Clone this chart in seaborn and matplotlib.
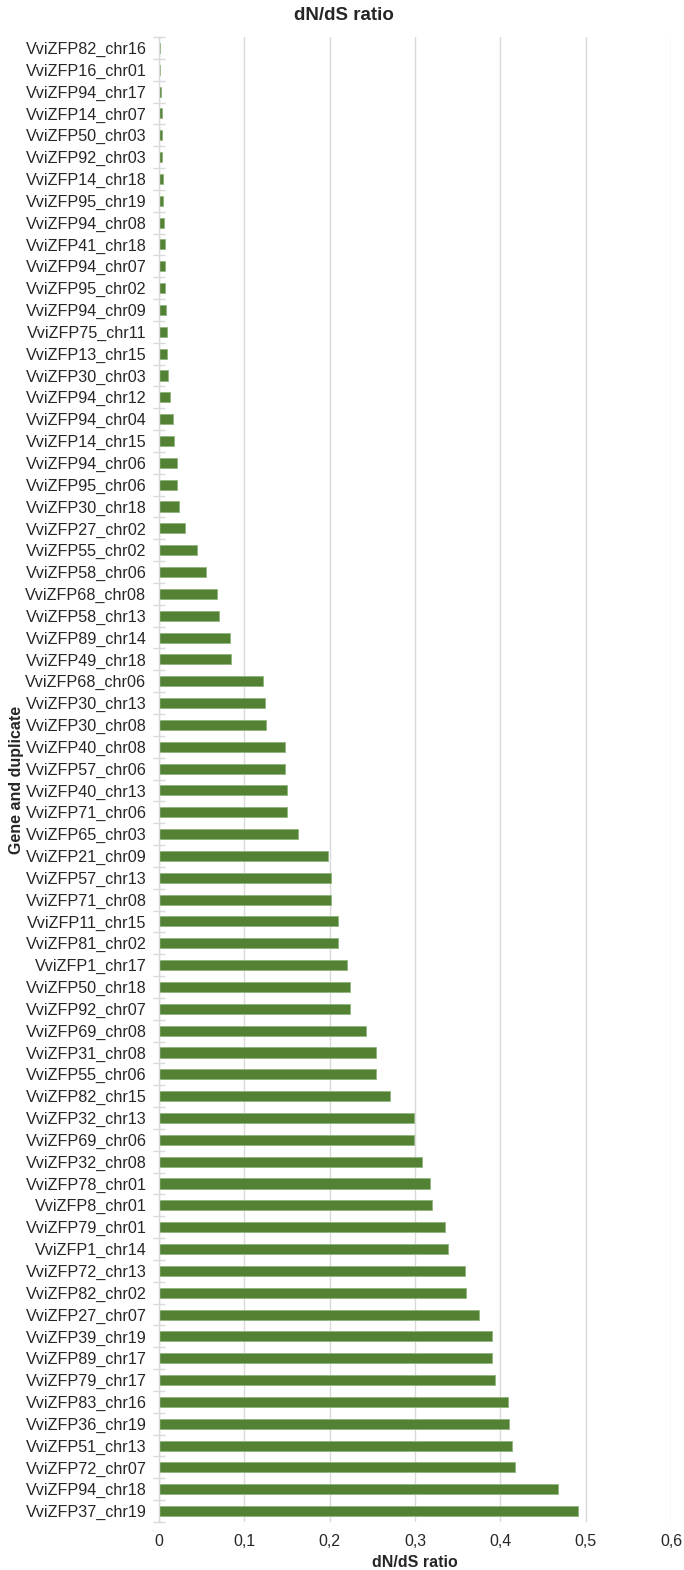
import matplotlib
matplotlib.use("Agg")
import matplotlib.pyplot as plt
import matplotlib.ticker as mticker
import seaborn as sns
import pandas as pd
import numpy as np

genes = [
    "VviZFP82_chr16", "VviZFP16_chr01", "VviZFP94_chr17", "VviZFP14_chr07",
    "VviZFP50_chr03", "VviZFP92_chr03", "VviZFP14_chr18", "VviZFP95_chr19",
    "VviZFP94_chr08", "VviZFP41_chr18", "VviZFP94_chr07", "VviZFP95_chr02",
    "VviZFP94_chr09", "VviZFP75_chr11", "VviZFP13_chr15", "VviZFP30_chr03",
    "VviZFP94_chr12", "VviZFP94_chr04", "VviZFP14_chr15", "VviZFP94_chr06",
    "VviZFP95_chr06", "VviZFP30_chr18", "VviZFP27_chr02", "VviZFP55_chr02",
    "VviZFP58_chr06", "VviZFP68_chr08", "VviZFP58_chr13", "VviZFP89_chr14",
    "VviZFP49_chr18", "VviZFP68_chr06", "VviZFP30_chr13", "VviZFP30_chr08",
    "VviZFP40_chr08", "VviZFP57_chr06", "VviZFP40_chr13", "VviZFP71_chr06",
    "VviZFP65_chr03", "VviZFP21_chr09", "VviZFP57_chr13", "VviZFP71_chr08",
    "VviZFP11_chr15", "VviZFP81_chr02", "VviZFP1_chr17", "VviZFP50_chr18",
    "VviZFP92_chr07", "VviZFP69_chr08", "VviZFP31_chr08", "VviZFP55_chr06",
    "VviZFP82_chr15", "VviZFP32_chr13", "VviZFP69_chr06", "VviZFP32_chr08",
    "VviZFP78_chr01", "VviZFP8_chr01", "VviZFP79_chr01", "VviZFP1_chr14",
    "VviZFP72_chr13", "VviZFP82_chr02", "VviZFP27_chr07", "VviZFP39_chr19",
    "VviZFP89_chr17", "VviZFP79_chr17", "VviZFP83_chr16", "VviZFP36_chr19",
    "VviZFP51_chr13", "VviZFP72_chr07", "VviZFP94_chr18", "VviZFP37_chr19",
]

dnds = [
    0.001, 0.0015, 0.002, 0.003, 0.0035, 0.004, 0.0045, 0.005,
    0.006, 0.007, 0.0066, 0.0074, 0.008, 0.0093, 0.0097, 0.011,
    0.013, 0.0165, 0.018, 0.021, 0.0215, 0.024, 0.030, 0.044,
    0.055, 0.068, 0.070, 0.083, 0.084, 0.122, 0.1245, 0.1253,
    0.148, 0.148, 0.1495, 0.1495, 0.163, 0.198, 0.2018, 0.2018,
    0.2097, 0.2097, 0.2198, 0.2233, 0.2233, 0.242, 0.254, 0.254,
    0.2705, 0.299, 0.299, 0.308, 0.318, 0.3205, 0.3346, 0.3389,
    0.359, 0.360, 0.3747, 0.3903, 0.3906, 0.3943, 0.409, 0.4106,
    0.414, 0.417, 0.467, 0.491,
]

x_ticks = [0, 0.1, 0.2, 0.3, 0.4, 0.5, 0.6]

df = pd.DataFrame({"gene": genes, "dnds": dnds})

sns.set_theme(style="white")
plt.rcParams["font.family"] = ["Liberation Sans", "DejaVu Sans"]

fig = plt.figure(figsize=(6.84, 15.70), dpi=100)
ax = fig.add_axes([159 / 684, 1 - 1522 / 1570, (671 - 159) / 684, (1522 - 37) / 1570])

sns.barplot(data=df, y="gene", x="dnds", order=genes, orient="h",
            color="#548235", saturation=1, width=0.46,
            edgecolor="#8fb37a", linewidth=0.6, ax=ax)

ax.set_xlim(0, 0.6)
ax.set_xticks(x_ticks)
ax.xaxis.set_major_formatter(mticker.FuncFormatter(
    lambda v, _: "0" if abs(v) < 1e-9 else f"{v:.1f}".replace(".", ",")))
ax.grid(axis="x", color="#d9d9d9", linewidth=1.0)
ax.grid(axis="y", visible=False)
ax.set_axisbelow(True)

for side in ["top", "right", "bottom"]:
    ax.spines[side].set_visible(False)
ax.spines["left"].set_color("#d9d9d9")
ax.spines["left"].set_linewidth(1.0)

# category boundary ticks on the value axis
ax.set_yticks(np.arange(-0.5, len(genes), 1.0), minor=True)
ax.tick_params(axis="y", which="minor", direction="inout", length=8,
               width=1.0, color="#d9d9d9", left=True)
ax.tick_params(axis="y", which="major", length=0, pad=9,
               labelsize=11.6, labelcolor="#262626")
ax.tick_params(axis="x", which="major", length=0, pad=9,
               labelsize=11.5, labelcolor="#262626")

ax.set_xlabel("dN/dS ratio", fontsize=11.5, fontweight="bold",
              color="#262626", labelpad=4)
ax.set_ylabel("Gene and duplicate", fontsize=11.5, fontweight="bold",
              color="#262626")
ax.yaxis.set_label_coords(-0.264, 0.5)

fig.text(0.503, 1 - 16 / 1570, "dN/dS ratio", ha="center", va="center",
         fontsize=13.5, fontweight="bold", color="#262626")

fig.savefig("out.png", dpi=100, facecolor="white")
